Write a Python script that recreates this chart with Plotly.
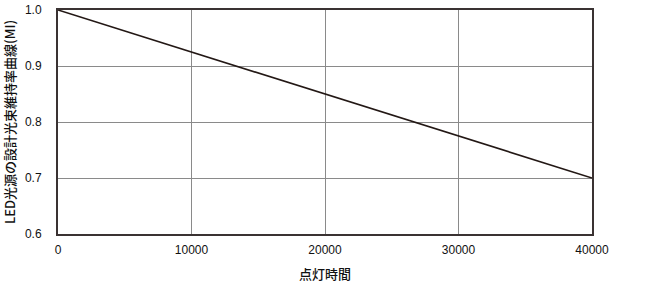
import plotly.graph_objects as go

hours = [0, 40000]
mi = [1.0, 0.7]
x_ticks = [0, 10000, 20000, 30000, 40000]
x_tick_labels = ["0", "10000", "20000", "30000", "40000"]
y_ticks = [0.6, 0.7, 0.8, 0.9, 1.0]
y_tick_labels = ["0.6", "0.7", "0.8", "0.9", "1.0"]

frame = "#3a3232"
fig = go.Figure(go.Scatter(x=hours, y=mi, mode="lines",
                           line=dict(color="#231815", width=1.6),
                           hoverinfo="skip", showlegend=False))
font_fam = "Liberation Sans, Arial, sans-serif"
fig.update_layout(
    width=660, height=283,
    margin=dict(l=58, r=68, t=10, b=49),
    paper_bgcolor="white", plot_bgcolor="white",
    font=dict(family=font_fam, size=12, color="#111"),
)
fig.update_xaxes(range=[0, 40000], tickvals=x_ticks, ticktext=x_tick_labels,
                 showgrid=True, gridcolor="#8a8a8a", gridwidth=1,
                 showline=True, linecolor=frame, linewidth=2, mirror=True,
                 ticks="outside", ticklen=4, tickcolor="rgba(0,0,0,0)",
                 zeroline=False, automargin=False,
                 title=dict(text="点灯時間",
                            font=dict(family="Noto Sans CJK JP", size=13, color="#111", weight=500),
                            standoff=14))
fig.update_yaxes(range=[0.6, 1.0], tickvals=y_ticks, ticktext=y_tick_labels,
                 showgrid=True, gridcolor="#8a8a8a", gridwidth=1,
                 showline=True, linecolor=frame, linewidth=2, mirror=True,
                 ticks="outside", ticklen=12, tickcolor="rgba(0,0,0,0)",
                 zeroline=False, automargin=False,
                 title=dict(text="LED光源の設計光束維持率曲線(MI)",
                            font=dict(family="Noto Sans CJK JP", size=13, color="#111", weight=500),
                            standoff=8))
fig.write_html("out.html")
